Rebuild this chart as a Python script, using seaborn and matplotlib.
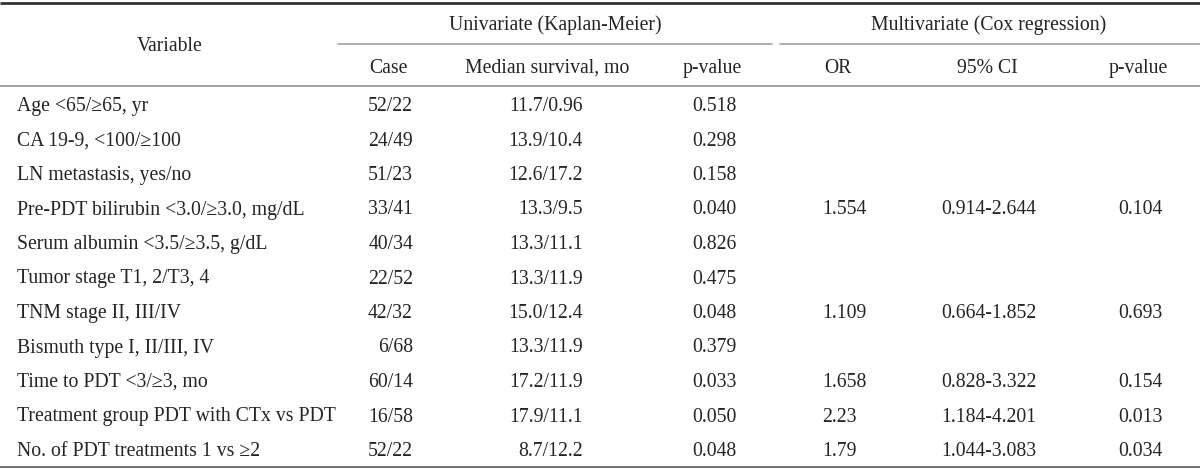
import matplotlib
matplotlib.use("Agg")
import matplotlib.pyplot as plt
import seaborn as sns

# ---- data ----
variables = [
    "Age <65/\u226565, yr",
    "CA 19-9, <100/\u2265100",
    "LN metastasis, yes/no",
    "Pre-PDT bilirubin <3.0/\u22653.0, mg/dL",
    "Serum albumin <3.5/\u22653.5, g/dL",
    "Tumor stage T1, 2/T3, 4",
    "TNM stage II, III/IV",
    "Bismuth type I, II/III, IV",
    "Time to PDT <3/\u22653, mo",
    "Treatment group PDT with CTx vs PDT",
    "No. of PDT treatments 1 vs \u22652",
]
cases = ["52/22", "24/49", "51/23", "33/41", "40/34", "22/52", "42/32", "6/68", "60/14", "16/58", "52/22"]
median_survival = ["11.7/0.96", "13.9/10.4", "12.6/17.2", "13.3/9.5", "13.3/11.1", "13.3/11.9",
                   "15.0/12.4", "13.3/11.9", "17.2/11.9", "17.9/11.1", "8.7/12.2"]
p_uni = ["0.518", "0.298", "0.158", "0.040", "0.826", "0.475", "0.048", "0.379", "0.033", "0.050", "0.048"]
odds_ratio = ["", "", "", "1.554", "", "", "1.109", "", "1.658", "2.23", "1.79"]
ci95 = ["", "", "", "0.914-2.644", "", "", "0.664-1.852", "", "0.828-3.322", "1.184-4.201", "1.044-3.083"]
p_multi = ["", "", "", "0.104", "", "", "0.693", "", "0.154", "0.013", "0.034"]

group_headers = ["Univariate (Kaplan-Meier)", "Multivariate (Cox regression)"]
sub_headers = ["Case", "Median survival, mo", "p-value", "OR", "95% CI", "p-value"]

# ---- style ----
sns.set_theme(style="white")
plt.rcParams["font.family"] = ["Liberation Serif", "DejaVu Serif"]
TXT = "#242424"
FS = 14.2

W, H = 1200, 469
fig = plt.figure(figsize=(W / 100, H / 100), dpi=100)
ax = fig.add_axes([0, 0, 1, 1])
ax.set_xlim(0, W)
ax.set_ylim(H, 0)
ax.axis("off")

# layout (pixel positions)
row0, row_step = 106.5, 34.5
left_x = 17
# (x, ha, header centre) for each column
col_spec = [
    (413, "right", 388),     # Case
    (583, "right", 547),     # Median survival
    (692, "left", 712),      # p-value
    (822, "left", 838),      # OR
    (989, "center", 987),    # 95% CI
    (1140, "center", 1138),  # p-value
]
columns = [cases, median_survival, p_uni, odds_ratio, ci95, p_multi]

# rules
ax.plot([0, W], [3, 3], color="#333333", lw=2.0, solid_capstyle="butt")
ax.plot([338, 772], [44, 44], color="#999999", lw=1.1)
ax.plot([780, W], [44, 44], color="#999999", lw=1.1)
ax.plot([0, W], [86, 86], color="#888888", lw=1.1)
ax.plot([0, W], [467, 467], color="#777777", lw=1.5)

# headers
ax.text(170, 46.5, "Variable", ha="center", va="center", fontsize=FS, color=TXT)
ax.text(555, 25.5, group_headers[0], ha="center", va="center", fontsize=FS, color=TXT)
ax.text(989, 25.5, group_headers[1], ha="center", va="center", fontsize=FS, color=TXT)
for (x, ha, hx), label in zip(col_spec, sub_headers):
    ax.text(hx, 68.5, label, ha="center", va="center", fontsize=FS, color=TXT)

# body
for i, var in enumerate(variables):
    y = row0 + i * row_step
    ax.text(left_x, y, var, ha="left", va="center", fontsize=FS, color=TXT)
    for (x, ha, hx), col in zip(col_spec, columns):
        if col[i]:
            ax.text(x, y, col[i], ha=ha, va="center", fontsize=FS, color=TXT)

fig.savefig("out.png", dpi=100)
